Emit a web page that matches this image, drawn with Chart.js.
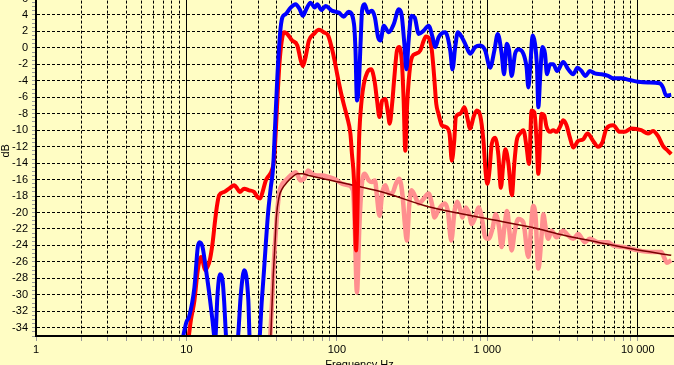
<!DOCTYPE html>
<html>
<head>
<meta charset="utf-8">
<script src="https://cdn.jsdelivr.net/npm/chart.js@4.4.1/dist/chart.umd.min.js"></script>
<style>
  html, body { margin: 0; padding: 0; background: #FFFDC4; overflow: hidden; width: 674px; height: 365px; }
  #wrap { position: absolute; left: 0; top: -45px; width: 685px; height: 417px; }
</style>
</head>
<body>
<div id="wrap"><canvas id="chart" width="685" height="417"></canvas></div>
<script>
"use strict";

// Frequenzgang-Daten (Hz / dB)
const blueFreq = [9.4, 10.0, 10.4, 11.3, 11.9, 12.2, 12.8, 13.5, 14.2, 14.9, 15.5, 16.1, 16.7, 17.4, 17.8, 18.5, 21.8, 23.0, 24.2, 25.0, 25.8, 26.4, 30.4, 31.7, 32.8, 33.7, 35.0, 36.4, 37.7, 38.8, 40.2, 41.9, 43.4, 45.7, 49.3, 53.2, 56.6, 59.5, 62.6, 66.9, 71.2, 74.0, 79.2, 84.2, 93.1, 103, 111, 120, 130, 133, 136, 140, 144, 147, 153, 161, 171, 179, 188, 195, 205, 221, 239, 258, 269, 281, 290, 300, 313, 329, 350, 378, 407, 433, 451, 475, 526, 567, 587, 612, 637, 677, 713, 770, 831, 897, 968, 1044, 1115, 1173, 1246, 1293, 1345, 1396, 1452, 1530, 1609, 1737, 1826, 1874, 1942, 2001, 2076, 2141, 2184, 2251, 2321, 2418, 2493, 2610, 2745, 2917, 3197, 3451, 3724, 3977, 4227, 4494, 4807, 5187, 5737, 6353, 6858, 7785, 8853, 10045, 11701, 13991, 14716, 15474, 16700];
const blueDb = [-35.5, -33.3, -32.7, -29.1, -24.2, -23.6, -24.2, -27, -29.9, -33.1, -35.5, -29.9, -27.5, -28.3, -30.7, -35.5, -35.5, -29.9, -27, -27.7, -30.7, -35.5, -35.5, -30.7, -27, -23.8, -19.8, -16.9, -14.5, -9.7, -3.6, 1.7, 3.7, 4.1, 4.9, 5.3, 4.7, 3.9, 4.7, 5.5, 4.9, 5.3, 4.6, 5.1, 4.5, 4.3, 3.8, 4.4, 2.9, -0.3, -6.4, -4.4, 0.9, 4.5, 5.3, 4.3, 4.5, 3.7, 1.3, 0.9, 2.7, 1.9, 2.9, 4.7, 4.1, 0.5, -2.6, 0.9, 3.9, 3.7, 1.7, 2.1, 2.7, 1.3, 0.1, 1.3, 1.9, -0.3, -2.6, 0.1, 1.9, 1.3, 0.5, -0.7, 0.1, 0.3, -0.3, -2.4, -0.3, 1.7, -0.7, -3.2, 0.5, -0.3, -3.4, -0.7, -0.2, -0.7, -2.4, -4.8, -1.5, 1.5, 0.5, -2.4, -7.2, -3.2, 0.1, -0.7, -3.2, -2.0, -2.0, -2.8, -1.7, -2.6, -3.2, -2.4, -2.8, -3.4, -2.8, -3.1, -3.2, -3.4, -3.7, -3.7, -3.9, -4.1, -4.2, -4.3, -4.8, -5.8, -5.7];

const redFreq = [10.3, 10.7, 11.3, 11.9, 12.5, 12.8, 13.3, 13.8, 14.3, 14.9, 15.5, 15.9, 16.5, 17.8, 19.2, 20.8, 21.8, 22.6, 24.2, 26.1, 28.2, 29.6, 30.9, 32.3, 33.7, 35.4, 36.9, 38.2, 39.2, 40.2, 41.7, 43.4, 44.5, 46.8, 50.5, 54.6, 57.5, 59.5, 62.0, 65.2, 70.4, 76.0, 82.0, 87.6, 92.2, 96.5, 100.5, 105.8, 111, 117, 123, 126, 130, 134, 141, 146, 151, 159, 169, 178, 185, 192, 200, 210, 219, 224.5, 233, 241, 251, 260, 271, 278, 285, 292, 303, 316, 336, 359, 378, 391, 412, 428, 444, 458, 474, 499, 530, 561, 581, 603, 618, 661, 706, 731, 770, 810, 851, 897, 943, 977, 1002, 1033, 1070, 1127, 1185, 1231, 1279, 1319, 1381, 1457, 1513, 1567, 1651, 1737, 1826, 1894, 1971, 2054, 2128, 2184, 2295, 2392, 2477, 2610, 2745, 2886, 3041, 3197, 3363, 3543, 3724, 4020, 4339, 4634, 5054, 5445, 5810, 6194, 6858, 7598, 8199, 9069, 10563, 11701, 12632, 13630, 14716, 15880, 16700];
const redDb = [-35.5, -33.1, -30.7, -27, -25.4, -25.8, -27, -26.6, -25.8, -23.8, -21, -19.4, -17.9, -17.5, -17.1, -16.7, -17.1, -17.5, -17.1, -17.3, -17.5, -18.1, -18.3, -17.3, -16.1, -15.5, -14.9, -13.7, -10.4, -6.4, -1.5, 1.3, 1.9, 1.7, 0.9, 0.3, -1.5, -2.2, -1.1, 0.9, 1.7, 2.2, 1.9, 1.5, 0.1, -1.5, -3.2, -5.2, -6.8, -8.4, -10.4, -12.9, -16.1, -24.6, -10.4, -6.4, -4.4, -3.0, -2.6, -4.0, -6.4, -8.4, -6.4, -6.2, -8.0, -9.2, -6.8, -3.6, -0.3, 0.1, -1.9, -6.4, -12.5, -7.6, -3.2, -1.1, -0.7, -0.3, 0.9, 1.4, 1.1, -0.3, -3.6, -6.8, -8.0, -9.4, -9.6, -10.4, -13.7, -11.3, -8.4, -8.0, -7.2, -8.2, -9.8, -8.4, -7.6, -8.2, -11.3, -15.3, -16.5, -15, -11.7, -10.9, -13, -17, -14, -12.3, -14, -17.9, -14, -11.3, -10.4, -10, -12.1, -14.1, -7.6, -7.8, -11.3, -15.3, -8, -8.2, -9.6, -10.2, -10.0, -10.2, -9.6, -8.8, -9.4, -10.9, -12.1, -11.3, -11.1, -10.4, -11.3, -12.0, -11.5, -9.8, -9.4, -10.2, -10.2, -9.8, -10.0, -10.4, -10.1, -10.7, -11.9, -12.5, -12.9];

const pinkFreq = [36.0, 37.3, 38.2, 39.2, 40.2, 41.3, 43.4, 45.7, 49.3, 53.2, 57.5, 60.4, 64.5, 68.6, 74.0, 79.9, 88.5, 98.0, 108, 120, 128, 131.6, 136, 141, 146, 153, 163, 171, 179, 185, 192, 200, 210, 221, 233, 247, 260, 274, 282, 292, 303, 313, 329, 350, 378, 407, 428, 446, 470, 494, 520, 547, 576, 606, 631, 664, 684, 720, 758, 789, 831, 874, 919, 968, 1018, 1082, 1138, 1198, 1246, 1299, 1353, 1409, 1452, 1513, 1567, 1609, 1737, 1874, 2022, 2096, 2184, 2295, 2356, 2440, 2543, 2674, 2886, 3197, 3451, 3724, 4020, 4452, 4807, 5445, 6353, 6858, 8199, 10045, 12310, 14330, 15100, 15640, 16700];
const pinkDb = [-35.5, -29.9, -25.8, -22.6, -19.8, -17.7, -16.5, -16.1, -15.5, -15.1, -16.1, -15.9, -14.9, -15.3, -15.5, -15.5, -15.7, -16.0, -16.5, -16.7, -17.3, -21.8, -29.7, -21.8, -16.9, -15.3, -16.1, -16.3, -16.1, -18.1, -20.4, -17.7, -16.7, -17.7, -17.7, -16.5, -15.9, -18.1, -21, -23.4, -19, -17.3, -17.9, -18.9, -18.3, -17.7, -18.9, -20.6, -19.8, -19.2, -18.9, -19.8, -23.4, -19.8, -18.7, -19.8, -20.6, -19.4, -20.2, -21.4, -20.6, -19.4, -20.6, -23.0, -23.2, -22, -20.2, -21.8, -24.2, -21.8, -19.8, -22.6, -24.6, -22.6, -21.2, -20.8, -21.2, -25.4, -19.2, -20.6, -26.8, -22.8, -20.2, -21.8, -23.2, -22.2, -23.0, -22.2, -22.8, -23.2, -22.6, -23.6, -23.2, -23.6, -23.6, -24.0, -24.2, -24.6, -24.8, -24.8, -25.6, -26.1, -25.8];

const trendFreq = [36.3, 37.7, 38.8, 39.6, 41.3, 43.4, 46.8, 50.5, 54.6, 58.9, 65.2, 103, 200, 407, 968, 1971, 3282, 5445, 9069, 16700];
const trendDb = [-35.5, -28, -23.8, -20.6, -18.1, -17.1, -16.3, -15.7, -15.3, -15.3, -15.5, -16.3, -17.5, -19.3, -20.7, -21.8, -22.8, -23.6, -24.4, -25.2];

// Achsen
const decadeValues = [1, 10, 100, 1000, 10000];
const decadeLabels = ['1', '10', '100', '1 000', '10 000'];
const xMin = 1, xMax = 20000;
const yMin = -35, yMax = 10;

function toPoints(freqs, dbs) {
    return freqs.map((f, i) => ({ x: f, y: dbs[i] }));
}

function isDecade(v) {
    return decadeValues.some(d => Math.abs(v - d) < 1e-6);
}

function isMajorDb(v) {
    return Number.isInteger(v) && v % 2 === 0;
}

Chart.defaults.font.family = "'Liberation Sans', Arial, sans-serif";
Chart.defaults.font.size = 11;
Chart.defaults.color = '#000';

const lineBase = {
    pointRadius: 0,
    fill: false,
    cubicInterpolationMode: 'monotone',
    clip: 0
};

new Chart(document.getElementById('chart'), {
    type: 'line',
    data: {
        datasets: [{
            ...lineBase,
            data: toPoints(blueFreq, blueDb),
            borderColor: '#0000FF',
            borderWidth: 4,
            order: 1
        }, {
            ...lineBase,
            data: toPoints(redFreq, redDb),
            borderColor: '#FF0000',
            borderWidth: 4,
            order: 2
        }, {
            ...lineBase,
            data: toPoints(trendFreq, trendDb),
            borderColor: '#7A0000',
            borderWidth: 1.5,
            order: 3
        }, {
            ...lineBase,
            data: toPoints(pinkFreq, pinkDb),
            borderColor: '#FF8F8F',
            borderWidth: 4.5,
            order: 4
        }]
    },
    options: {
        responsive: false,
        devicePixelRatio: 1,
        animation: false,
        layout: { padding: { top: 10, left: 0, right: 0, bottom: 0 } },
        plugins: {
            legend: { display: false },
            tooltip: { enabled: false }
        },
        scales: {
            x: {
                type: 'logarithmic',
                min: xMin,
                max: xMax,
                afterBuildTicks: (scale) => {
                    const ticks = [];
                    decadeValues.forEach(d => {
                        for (let m = 1; m <= 9; m++) {
                            const v = m * d;
                            if (v <= xMax) ticks.push({ value: v });
                        }
                    });
                    scale.ticks = ticks;
                },
                afterFit: (scale) => { scale.height = 36; },
                ticks: {
                    autoSkip: false,
                    maxRotation: 0,
                    padding: 2,
                    color: '#000',
                    callback: (value) => {
                        const i = decadeValues.findIndex(d => Math.abs(value - d) < 1e-6);
                        return i >= 0 ? decadeLabels[i] : '';
                    }
                },
                grid: {
                    color: '#000',
                    lineWidth: 1,
                    tickColor: '#9a9a9a',
                    tickLength: 5
                },
                border: {
                    color: '#000',
                    width: 2,
                    z: 1,
                    dash: (ctx) => (ctx.tick && !isDecade(ctx.tick.value)) ? [3, 2] : []
                },
                title: {
                    display: true,
                    text: 'Frequency Hz',
                    color: '#000',
                    padding: 0,
                    font: { size: 11 }
                }
            },
            y: {
                type: 'linear',
                min: yMin,
                max: yMax,
                afterBuildTicks: (scale) => {
                    const ticks = [];
                    for (let k = yMin * 2; k <= yMax * 2; k++) ticks.push({ value: k / 2 });
                    scale.ticks = ticks;
                },
                afterFit: (scale) => { scale.width = 36; },
                ticks: {
                    autoSkip: false,
                    padding: 4,
                    color: '#000',
                    callback: (value) => isMajorDb(value) ? String(value) : ''
                },
                grid: {
                    color: (ctx) => (ctx.tick && isMajorDb(ctx.tick.value)) ? '#000' : 'rgba(0,0,0,0)',
                    lineWidth: 1,
                    tickColor: '#9a9a9a',
                    tickLength: 4
                },
                border: {
                    color: '#000',
                    width: 2,
                    z: 1,
                    dash: (ctx) => ctx.tick ? [3, 2] : []
                },
                title: {
                    display: true,
                    text: 'dB',
                    color: '#000',
                    padding: 0,
                    font: { size: 11, lineHeight: 1 }
                }
            }
        }
    }
});
</script>
</body>
</html>
